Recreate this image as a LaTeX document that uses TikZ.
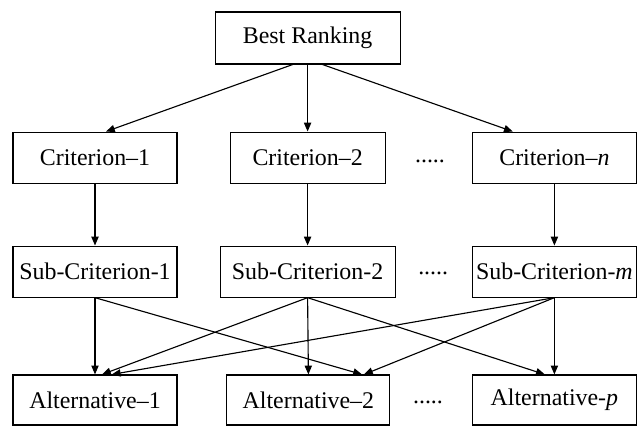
\documentclass[tikz,border=0pt]{standalone}
\usepackage{fontspec}
\setmainfont{Liberation Serif}
\usetikzlibrary{arrows.meta, positioning}

\begin{document}
\begin{tikzpicture}[
    every node/.style={font=\fontsize{17}{20}\selectfont},
    box/.style={rectangle, draw, line width=0.8pt, minimum height=1.275cm, align=center, inner sep=2pt},
    arr/.style={-{Triangle[length=2.2mm, width=1.8mm]}, line width=0.8pt},
    gap/.style={inner sep=0pt}
]
\useasboundingbox (0,0) rectangle (15.925,10.7);

% Top: goal
\node[box, minimum width=4.625cm, minimum height=1.3cm] (best) at (7.69,9.75) {Best Ranking};

% Row 1: criteria
\node[box, minimum width=4.1cm] (crit1) at (2.375,6.76) {Criterion--1};
\node[box, minimum width=3.875cm] (crit2) at (7.69,6.76) {Criterion--2};
\node[box, minimum width=4.1cm] (critn) at (13.86,6.76) {Criterion--\textit{n}};
\node[gap] (critdots) at (10.75,6.675) {.....};

% Row 2: sub-criteria
\node[box, minimum width=4.1cm] (sub1) at (2.375,3.91) {Sub-Criterion-1};
\node[box, minimum width=4.375cm] (sub2) at (7.69,3.91) {Sub-Criterion-2};
\node[box, minimum width=4.1cm] (subm) at (13.86,3.91) {Sub-Criterion-\textit{m}};
\node[gap] (subdots) at (10.83,3.875) {.....};

% Row 3: alternatives
\node[box, minimum width=4.1cm, minimum height=1.25cm] (alt1) at (2.375,0.7) {Alternative--1};
\node[box, minimum width=4.075cm, minimum height=1.25cm] (alt2) at (7.71,0.7) {Alternative--2};
\node[box, minimum width=4.1cm, minimum height=1.25cm] (altp) at (13.86,0.7) {Alternative-\textit{p}};
\node[gap] (altdots) at (10.7,0.65) {.....};

% Arrows
\draw[arr] ([xshift=-0.375cm]best.south) -- ([xshift=0.275cm]crit1.north);
\draw[arr] (best.south) -- (crit2.north);
\draw[arr] ([xshift=0.375cm]best.south) -- ([xshift=-1.04cm]critn.north);

\draw[arr] (crit1) -- (sub1);
\draw[arr] (crit2) -- (sub2);
\draw[arr] (critn) -- (subm);

\draw[arr] (sub1.south) -- (alt1.north);
\draw[arr] (sub1.south) -- ([xshift=1.34cm]alt2.north);
\draw[arr] (sub2.south) -- ([xshift=0.175cm]alt1.north);
\draw[arr] (sub2.south) -- (alt2.north);
\draw[arr] (sub2.south) -- ([xshift=-0.24cm]altp.north);
\draw[arr] (subm.south) -- ([xshift=0.42cm]alt1.north);
\draw[arr] (subm.south) -- ([xshift=1.39cm]alt2.north);
\draw[arr] (subm.south) -- (altp.north);

\end{tikzpicture}
\end{document}
